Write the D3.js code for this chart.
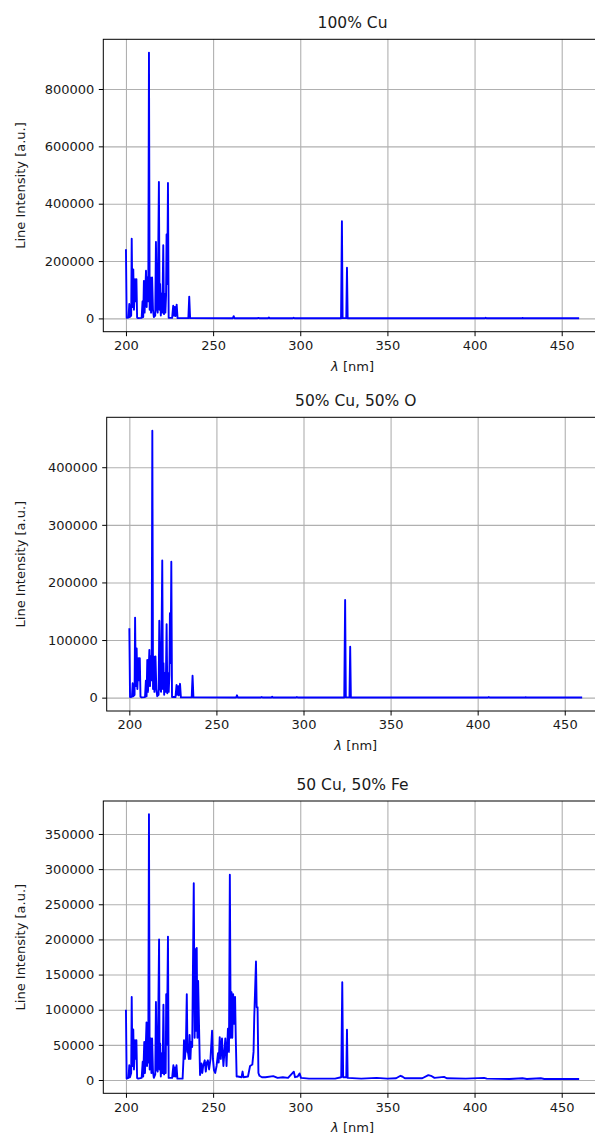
<!DOCTYPE html>
<head>
  <meta charset="utf-8">
  <script src="https://d3js.org/d3.v7.min.js"></script>
  <style>
    body { margin: 0; background: #fff; }
    text { font-family: "DejaVu Sans", sans-serif; fill: #000; }
    .axis path, .axis line { fill: none; stroke: #000; stroke-width: 1; }
    .axis text { font-size: 13px; fill: #1a1a1a; }
    .grid line { stroke: #b0b0b0; stroke-width: 1.1; }
    .grid path { display: none; }
  </style>
</head>
<body>
<script>
// wavelengths [nm] for the two copper spectra
var wl1 = [200.0, 200.4, 201.5, 201.9, 202.3, 203.0, 203.3, 203.7, 204.2, 204.6,
  205.2, 205.7, 206.0, 206.4, 207.0, 209.0, 209.5, 209.9, 210.3, 210.7,
  211.5, 211.9, 212.2, 212.8, 213.2, 213.6, 214.0, 214.4, 215.0, 215.5,
  216.0, 216.8, 217.2, 217.7, 218.2, 218.9, 219.3, 219.6, 220.0, 220.4,
  220.9, 221.4, 221.8, 222.1, 222.6, 223.0, 223.3, 223.7, 224.1, 224.5,
  226.5, 227.1, 227.5, 228.0, 228.4, 229.1, 229.6, 235.8, 236.3, 236.8,
  261.3, 261.8, 262.3, 275.5, 276.0, 276.5, 281.5, 282.0, 282.5, 295.7,
  296.2, 296.7, 323.4, 323.9, 324.3, 326.4, 326.8, 327.2, 406.0, 406.4,
  406.8, 427.2, 427.6, 428.0, 460.0];

// 100% Cu
var cu100 = [241000, 2000, 3000, 50000, 5000, 10000, 278000, 40000, 171000, 30000,
  137000, 60000, 137000, 3000, 1000, 2000, 59000, 5000, 131000, 20000,
  166000, 40000, 143000, 60000, 927000, 30000, 143000, 20000, 143000, 30000,
  5000, 10000, 267000, 35000, 20000, 476000, 30000, 120000, 10000, 86000,
  20000, 255000, 15000, 86000, 20000, 80000, 293000, 120000, 472000, 2000,
  2000, 44000, 10000, 40000, 8000, 48000, 1000, 1000, 76000, 1000,
  500, 8000, 500, 500, 2000, 500, 500, 3000, 500, 500,
  2500, 500, 500, 339000, 1000, 1000, 177000, 500, 500, 2000,
  500, 500, 1500, 500, 500];

// 50% Cu, 50% O
var cuO = [120500, 1000, 1500, 25000, 2500, 5000, 139000, 20000, 85500, 15000,
  68500, 30000, 68500, 1500, 500, 1000, 29500, 2500, 65500, 10000,
  83000, 20000, 71500, 30000, 463500, 15000, 71500, 10000, 71500, 15000,
  2500, 5000, 133500, 17500, 10000, 238000, 15000, 60000, 5000, 43000,
  10000, 127500, 7500, 43000, 10000, 40000, 146500, 60000, 236000, 1000,
  1000, 22000, 5000, 20000, 4000, 24000, 500, 500, 38000, 500,
  250, 4000, 250, 250, 1000, 250, 250, 1500, 250, 250,
  1250, 250, 250, 169500, 500, 500, 88500, 250, 250, 1000,
  250, 250, 750, 250, 250];

// wavelengths [nm] for the copper / iron spectrum
var wl3 = [200.0, 200.4, 201.5, 201.9, 202.3, 203.0, 203.3, 203.7, 204.2, 204.6,
  205.2, 205.7, 206.0, 206.4, 207.0, 209.0, 209.6, 209.9, 210.5, 210.9,
  211.8, 212.1, 212.4, 212.8, 213.2, 213.6, 214.2, 214.6, 215.0, 215.5,
  216.0, 216.8, 217.2, 217.7, 218.2, 219.0, 219.3, 219.6, 220.0, 220.6,
  221.0, 221.5, 221.9, 222.4, 222.8, 223.1, 223.5, 224.1, 224.5, 226.5,
  227.2, 227.6, 228.1, 228.5, 229.0, 229.5, 232.5, 233.0, 233.3, 233.8,
  234.4, 234.9, 235.3, 235.7, 236.1, 236.5, 237.0, 237.4, 238.0, 238.9,
  239.4, 239.9, 240.3, 240.6, 241.0, 241.4, 241.9, 242.5, 243.3, 243.8,
  244.3, 245.2, 245.8, 246.4, 247.0, 247.7, 248.5, 249.4, 249.9, 250.5,
  251.2, 252.0, 252.8, 253.2, 253.8, 254.4, 255.1, 255.9, 256.5, 257.0,
  257.7, 258.5, 259.1, 259.6, 260.1, 260.6, 261.0, 261.5, 262.1, 262.6,
  263.0, 263.5, 264.2, 266.3, 266.9, 267.4, 270.0, 271.2, 272.5, 273.2,
  273.6, 274.6, 275.0, 275.5, 276.0, 276.6, 278.0, 280.0, 284.5, 287.0,
  290.0, 293.0, 296.3, 297.0, 298.5, 299.6, 300.4, 305.0, 320.0, 323.5,
  324.1, 324.6, 326.4, 326.8, 327.2, 335.0, 343.8, 350.0, 355.0, 357.5,
  358.5, 360.0, 370.0, 373.5, 375.0, 377.0, 382.5, 384.0, 395.0, 405.5,
  407.0, 420.0, 427.5, 430.0, 438.0, 440.0, 460.0];

// 50 Cu, 50% Fe
var cuFe = [100000, 2000, 3000, 21000, 4000, 10000, 118000, 20000, 72000, 15000,
  56500, 30000, 56500, 3000, 2000, 3000, 26000, 5000, 54000, 10000,
  82000, 20000, 59000, 25000, 378000, 15000, 59000, 10000, 59000, 12000,
  3000, 8000, 111000, 15000, 12000, 200000, 15000, 52000, 5000, 38000,
  10000, 107000, 8000, 38000, 10000, 122000, 50000, 204000, 3000, 3000,
  21000, 5000, 18000, 5000, 21000, 2000, 2000, 30000, 56500, 30000,
  50000, 122000, 40000, 38000, 30000, 64000, 30000, 54000, 47000, 280000,
  60000, 186000, 70000, 188000, 60000, 141000, 80000, 7000, 23500, 10000,
  20000, 28000, 12000, 25000, 28000, 15000, 30000, 70000, 30000, 14000,
  10000, 20000, 38000, 25000, 61000, 30000, 59000, 20000, 40000, 59000,
  20000, 73000, 40000, 292000, 60000, 125000, 60000, 122000, 80000, 118000,
  60000, 5000, 5000, 4000, 12000, 4000, 5000, 20000, 22000, 40000,
  89000, 168500, 103500, 103500, 10000, 6000, 4000, 4000, 5600, 3000,
  4000, 3000, 11800, 4000, 5000, 9400, 3000, 2000, 2000, 4000,
  139000, 4000, 4000, 71600, 3000, 2000, 3000, 2000, 2500, 6000,
  5000, 2500, 2500, 7000, 6000, 3000, 4500, 2500, 2000, 3000,
  2000, 1500, 2500, 1500, 2500, 1500, 1500];

var xTicks = [200, 250, 300, 350, 400, 450];
var yTicks1 = [0, 200000, 400000, 600000, 800000];
var yTicks2 = [0, 100000, 200000, 300000, 400000];
var yTicks3 = [0, 50000, 100000, 150000, 200000, 250000, 300000, 350000];
var titles = ["100% Cu", "50% Cu, 50% O", "50 Cu, 50% Fe"];

var w = 595;
var h = 1138;

var svg = d3.select("body")
    .append("svg")
    .attr("width", w)
    .attr("height", h);

// panel boxes in pixels (right side runs past the picture edge, as in the original)
var panels = [
    {wl: wl1, vals: cu100, yTicks: yTicks1, title: titles[0], left: 103.3, right: 601.8, top: 39.3, bottom: 331.7},
    {wl: wl1, vals: cuO, yTicks: yTicks2, title: titles[1], left: 106.7, right: 604.8, top: 417.3, bottom: 711},
    {wl: wl3, vals: cuFe, yTicks: yTicks3, title: titles[2], left: 103.3, right: 601.8, top: 801, bottom: 1093.3}
];

panels.forEach(function(p, i) {
    var ext = d3.extent(p.wl);
    var mx = (ext[1] - ext[0]) * 0.05;
    var xScale = d3.scaleLinear()
        .domain([ext[0] - mx, ext[1] + mx])
        .range([p.left, p.right]);
    var ymax = d3.max(p.vals);
    var yScale = d3.scaleLinear()
        .domain([-0.05 * ymax, 1.05 * ymax])
        .range([p.bottom, p.top]);

    var g = svg.append("g");

    g.append("clipPath")
        .attr("id", "clip" + i)
        .append("rect")
        .attr("x", p.left)
        .attr("y", p.top)
        .attr("width", p.right - p.left)
        .attr("height", p.bottom - p.top);

    // grid
    g.append("g")
        .attr("class", "grid")
        .attr("transform", "translate(0," + p.bottom + ")")
        .call(d3.axisBottom(xScale).tickValues(xTicks).tickSize(-(p.bottom - p.top)).tickFormat(""));
    g.append("g")
        .attr("class", "grid")
        .attr("transform", "translate(" + p.left + ",0)")
        .call(d3.axisLeft(yScale).tickValues(p.yTicks).tickSize(-(p.right - p.left)).tickFormat(""));

    var line = d3.line()
        .x(function(d, k) { return xScale(p.wl[k]); })
        .y(function(d) { return yScale(d); });

    g.append("path")
        .datum(p.vals)
        .attr("clip-path", "url(#clip" + i + ")")
        .attr("fill", "none")
        .attr("stroke", "#0000ff")
        .attr("stroke-width", 1.9)
        .attr("stroke-linejoin", "round")
        .attr("d", line);

    // frame
    g.append("rect")
        .attr("x", p.left)
        .attr("y", p.top)
        .attr("width", p.right - p.left)
        .attr("height", p.bottom - p.top)
        .attr("fill", "none")
        .attr("stroke", "#000")
        .attr("stroke-width", 1);

    g.append("g")
        .attr("class", "axis")
        .attr("transform", "translate(0," + p.bottom + ")")
        .call(d3.axisBottom(xScale).tickValues(xTicks).tickSize(4.5).tickPadding(4.5).tickSizeOuter(0))
        .select(".domain").remove();
    g.append("g")
        .attr("class", "axis")
        .attr("transform", "translate(" + p.left + ",0)")
        .call(d3.axisLeft(yScale).tickValues(p.yTicks).tickSize(4.5).tickPadding(4.5).tickSizeOuter(0).tickFormat(d3.format("d")))
        .select(".domain").remove();

    var cx = (p.left + p.right) / 2;
    g.append("text")
        .attr("x", cx)
        .attr("y", p.top - 11)
        .attr("text-anchor", "middle")
        .style("font-size", "15.5px")
        .style("fill", "#1a1a1a")
        .text(p.title);

    var xl = g.append("text")
        .attr("x", cx)
        .attr("y", p.bottom + 39)
        .attr("text-anchor", "middle")
        .style("font-size", "13px")
        .style("fill", "#1a1a1a");
    xl.append("tspan").style("font-style", "italic").text("λ");
    xl.append("tspan").text(" [nm]");

    g.append("text")
        .attr("transform", "translate(25," + ((p.top + p.bottom) / 2) + ") rotate(-90)")
        .attr("text-anchor", "middle")
        .style("font-size", "13px")
        .style("fill", "#1a1a1a")
        .text("Line Intensity [a.u.]");
});
</script>
</body>
